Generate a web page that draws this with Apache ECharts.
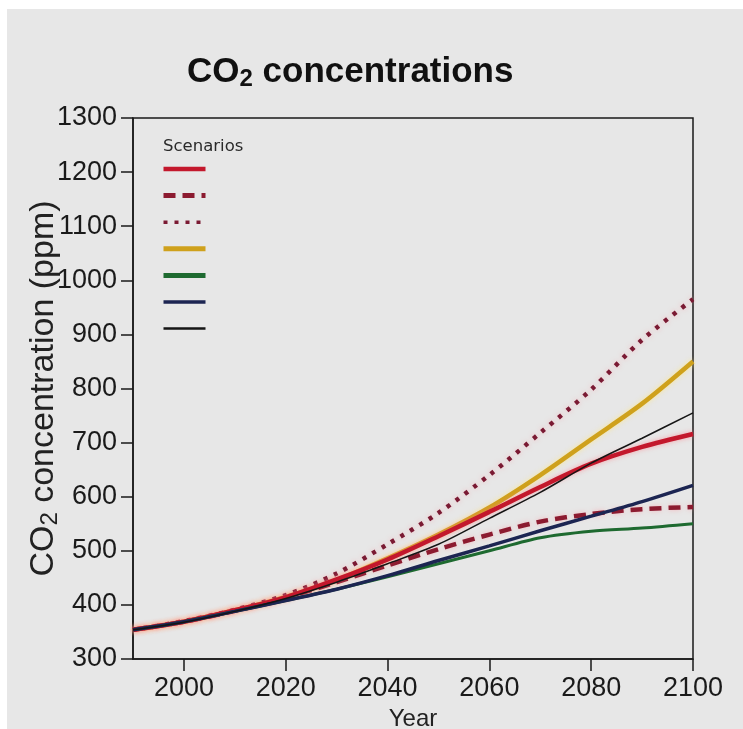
<!DOCTYPE html>
<html>
<head>
<meta charset="utf-8">
<script src="https://cdn.jsdelivr.net/npm/echarts@6/dist/echarts.min.js"></script>
<style>
html,body{margin:0;padding:0;background:#ffffff;width:743px;height:729px;overflow:hidden;}
#c{position:absolute;left:7px;top:9px;width:736px;height:720px;background:#e7e7e7;}
</style>
</head>
<body>
<div id="c"></div>
<script>
// ---- data ----
var years = [1990, 2000, 2010, 2020, 2030, 2040, 2050, 2060, 2070, 2080, 2090, 2100];
var xTicks = [2000, 2020, 2040, 2060, 2080, 2100];
var scenarioNames = ['A1B', 'A1T', 'A1FI', 'A2', 'B1', 'B2', 'IS92a'];
var A1B   = [354, 369, 390, 414, 447, 484, 527, 572, 618, 661, 692, 716];
var A1T   = [354, 369, 389, 413, 442, 473, 503, 530, 554, 568, 577, 581];
var A1FI  = [354, 370, 391, 418, 458, 512, 570, 640, 718, 798, 890, 965];
var A2    = [354, 369, 390, 415, 446, 486, 530, 580, 640, 706, 772, 850];
var B1    = [354, 369, 388, 408, 429, 452, 476, 500, 524, 536, 542, 550];
var B2    = [354, 369, 388, 408, 429, 454, 482, 509, 537, 564, 591, 621];
var IS92a = [354, 368, 388, 412, 442, 476, 512, 560, 608, 662, 708, 755];

function pairs(vals){ return years.map(function(y,i){ return [y, vals[i]]; }); }

var FONT = '"Liberation Sans", Arial, sans-serif';
var chart = echarts.init(document.getElementById('c'), null, {renderer:'canvas'});

function mk(name, vals, color, width, type, z, glow){
  var ls = {color: color, width: width, type: type};
  if (glow) { ls.shadowColor = glow; ls.shadowBlur = 5; }
  return {
    name: name, type: 'line', data: pairs(vals), smooth: 0.3,
    symbol: 'none', showSymbol: false, z: z,
    lineStyle: ls,
    itemStyle: {color: color},
    emphasis: {disabled: true}
  };
}

var legendWidths = [4.5, 5, 3.5, 5, 5, 3.5, 2.5];

chart.setOption({
  animation: false,
  backgroundColor: 'transparent',
  title: [{
    text: 'CO{s|2} concentrations',
    left: 180, top: 44, padding: 0,
    textStyle: {fontFamily: FONT, fontWeight: 'bold', fontSize: 35, color: '#111',
      rich: {s: {fontFamily: FONT, fontWeight: 'bold', fontSize: 24, color: '#111', padding: [14,0,0,0]}}}
  },{
    text: 'Scenarios', left: 156, top: 129, padding: 0,
    textStyle: {fontFamily: '"DejaVu Sans", sans-serif', fontWeight: 'normal', fontSize: 16.5, color: '#2a2a2a'}
  }],
  legend: {
    orient: 'vertical', left: 154, top: 153, padding: 0,
    itemWidth: 42, itemHeight: 14, itemGap: 14,
    data: scenarioNames.map(function(n, i){ return {name: n, lineStyle: {width: legendWidths[i]}}; }),
    formatter: function(){ return ''; },
    textStyle: {fontSize: 10},
    itemStyle: {opacity: 0},
    selectedMode: false
  },
  grid: {left: 126, top: 109, width: 560, height: 541, containLabel: false, outerBoundsMode: 'none',
    show: true, borderColor: '#1a1a1a', borderWidth: 1.5, backgroundColor: 'transparent'},
  xAxis: {
    type: 'value', min: 1990, max: 2100,
    name: 'Year', nameLocation: 'middle', nameGap: 48, nameMoveOverlap: false,
    nameTextStyle: {fontFamily: FONT, fontSize: 24, color: '#222'},
    axisLine: {show: true, lineStyle: {color: '#1a1a1a', width: 1.5}},
    axisTick: {show: true, inside: false, length: 12, customValues: xTicks, lineStyle: {color: '#1a1a1a', width: 1.5}},
    axisLabel: {customValues: xTicks, fontFamily: FONT, fontSize: 27, color: '#1a1a1a', margin: 16,
      formatter: function(v){ return String(v); }},
    splitLine: {show: false}
  },
  yAxis: {
    type: 'value', min: 300, max: 1300, interval: 100,
    name: 'CO{s|2} concentration (ppm)', nameLocation: 'middle', nameGap: 71, nameMoveOverlap: false,
    nameTextStyle: {fontFamily: FONT, fontSize: 34, color: '#222',
      rich: {s: {fontFamily: FONT, fontSize: 24, color: '#222', padding: [12,0,0,0]}}},
    axisLine: {show: true, lineStyle: {color: '#1a1a1a', width: 1.5}},
    axisTick: {show: true, inside: false, length: 12, lineStyle: {color: '#1a1a1a', width: 1.5}},
    axisLabel: {fontFamily: FONT, fontSize: 27, color: '#1a1a1a', margin: 16,
      formatter: function(v){ return String(v); }},
    splitLine: {show: false}
  },
  series: [
    mk('A1B',   A1B,   '#c3182c', 4.5, 'solid', 4, 'rgba(255,120,130,0.6)'),
    mk('A1T',   A1T,   '#8c1b30', 4.5, [12, 7], 3, 'rgba(255,140,150,0.5)'),
    mk('A1FI',  A1FI,  '#7a1a33', 4.5, [4, 7], 2, 'rgba(255,140,150,0.5)'),
    mk('A2',    A2,    '#cfa11c', 4.5, 'solid', 1, 'rgba(255,230,120,0.7)'),
    mk('B1',    B1,    '#1e6a30', 3,   'solid', 5),
    mk('B2',    B2,    '#1c2552', 3.5, 'solid', 6),
    mk('IS92a', IS92a, '#151515', 1.5, 'solid', 7)
  ]
});
</script>
</body>
</html>
